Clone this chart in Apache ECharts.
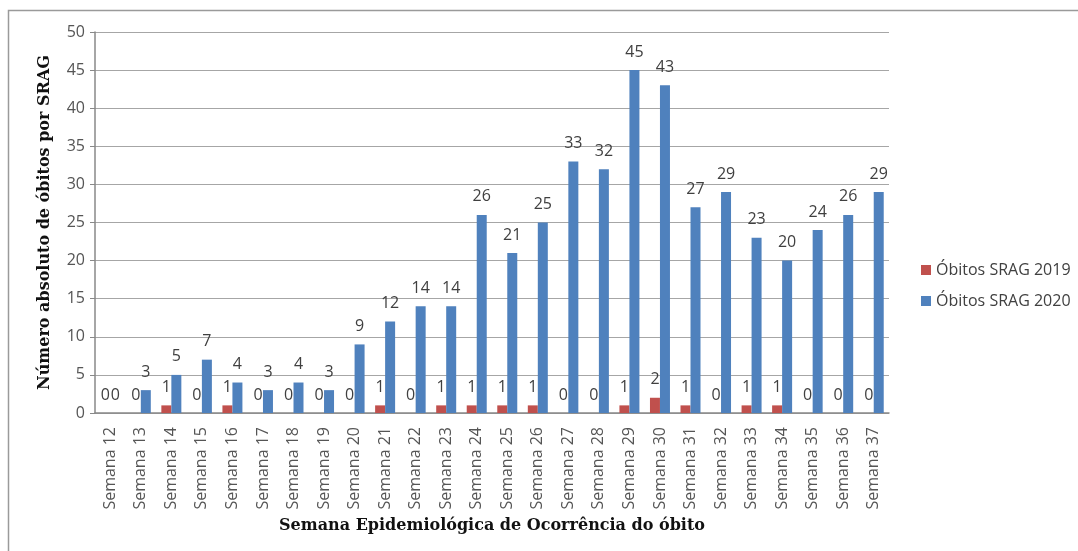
<!DOCTYPE html>
<html>
<head>
<meta charset="utf-8">
<script src="https://cdn.jsdelivr.net/npm/echarts@6/dist/echarts.min.js"></script>
<style>
  html, body { margin: 0; padding: 0; background: #fff; }
  #chart { width: 1078px; height: 551px; }
</style>
</head>
<body>
<div id="chart"></div>
<script>
// semanas epidemiologicas 12..37
const semanas = ['Semana 12', 'Semana 13', 'Semana 14', 'Semana 15', 'Semana 16', 'Semana 17',
  'Semana 18', 'Semana 19', 'Semana 20', 'Semana 21', 'Semana 22', 'Semana 23', 'Semana 24',
  'Semana 25', 'Semana 26', 'Semana 27', 'Semana 28', 'Semana 29', 'Semana 30', 'Semana 31',
  'Semana 32', 'Semana 33', 'Semana 34', 'Semana 35', 'Semana 36', 'Semana 37'];
const obitos2019 = [0, 0, 1, 0, 1, 0, 0, 0, 0, 1, 0, 1, 1, 1, 1, 0, 0, 1, 2, 1, 0, 1, 1, 0, 0, 0];
const obitos2020 = [0, 3, 5, 7, 4, 3, 4, 3, 9, 12, 14, 14, 26, 21, 25, 33, 32, 45, 43, 27, 29, 23, 20, 24, 26, 29];

const red = '#C0504D';
const blue = '#4F81BD';
const textColor = '#404040';
const sans = 'Open Sans';
const serif = 'DejaVu Serif';

const chart = echarts.init(document.getElementById('chart'));

const labelStyle = {
  show: true,
  position: 'top',
  distance: 10,
  color: textColor,
  fontFamily: sans,
  fontSize: 16
};

chart.setOption({
  animation: false,
  graphic: [{
    type: 'rect',
    shape: { x: 8.5, y: 10.5, width: 1100, height: 600 },
    style: { fill: 'none', stroke: '#9a9a9a', lineWidth: 1.5 },
    silent: true
  }],
  legend: {
    orient: 'vertical',
    left: 916,
    top: 257,
    itemWidth: 10,
    itemHeight: 10,
    itemGap: 15,
    icon: 'rect',
    textStyle: { color: textColor, fontFamily: sans, fontSize: 16 },
    data: ['Óbitos SRAG 2019', 'Óbitos SRAG 2020']
  },
  grid: {
    left: 95,
    right: 189,
    top: 32,
    bottom: 138
  },
  xAxis: {
    type: 'category',
    data: semanas,
    name: 'Semana Epidemiológica de Ocorrência do óbito',
    nameLocation: 'middle',
    nameGap: 105,
    nameTextStyle: { color: '#111', fontFamily: serif, fontWeight: 'bold', fontSize: 16 },
    axisLine: { lineStyle: { color: '#888', width: 1.5 } },
    axisTick: { show: false },
    axisLabel: {
      rotate: 90,
      interval: 0,
      margin: 14,
      color: '#555',
      fontFamily: sans,
      fontSize: 16
    }
  },
  yAxis: {
    type: 'value',
    min: 0,
    max: 50,
    interval: 5,
    name: 'Número absoluto de óbitos por SRAG',
    nameLocation: 'middle',
    nameGap: 42,
    nameTextStyle: { color: '#111', fontFamily: serif, fontWeight: 'bold', fontSize: 16 },
    axisLine: { show: true, lineStyle: { color: '#888', width: 1.5 } },
    axisTick: { show: true, length: 5, lineStyle: { color: '#888' } },
    axisLabel: { color: '#555', fontFamily: sans, fontSize: 16, margin: 10 },
    splitLine: { lineStyle: { color: '#a6a6a6', width: 1 } }
  },
  series: [
    {
      name: 'Óbitos SRAG 2019',
      type: 'bar',
      data: obitos2019,
      barWidth: 10,
      barGap: 0,
      itemStyle: { color: red },
      label: labelStyle
    },
    {
      name: 'Óbitos SRAG 2020',
      type: 'bar',
      data: obitos2020,
      barWidth: 10,
      itemStyle: { color: blue },
      label: labelStyle
    }
  ]
});
</script>
</body>
</html>
